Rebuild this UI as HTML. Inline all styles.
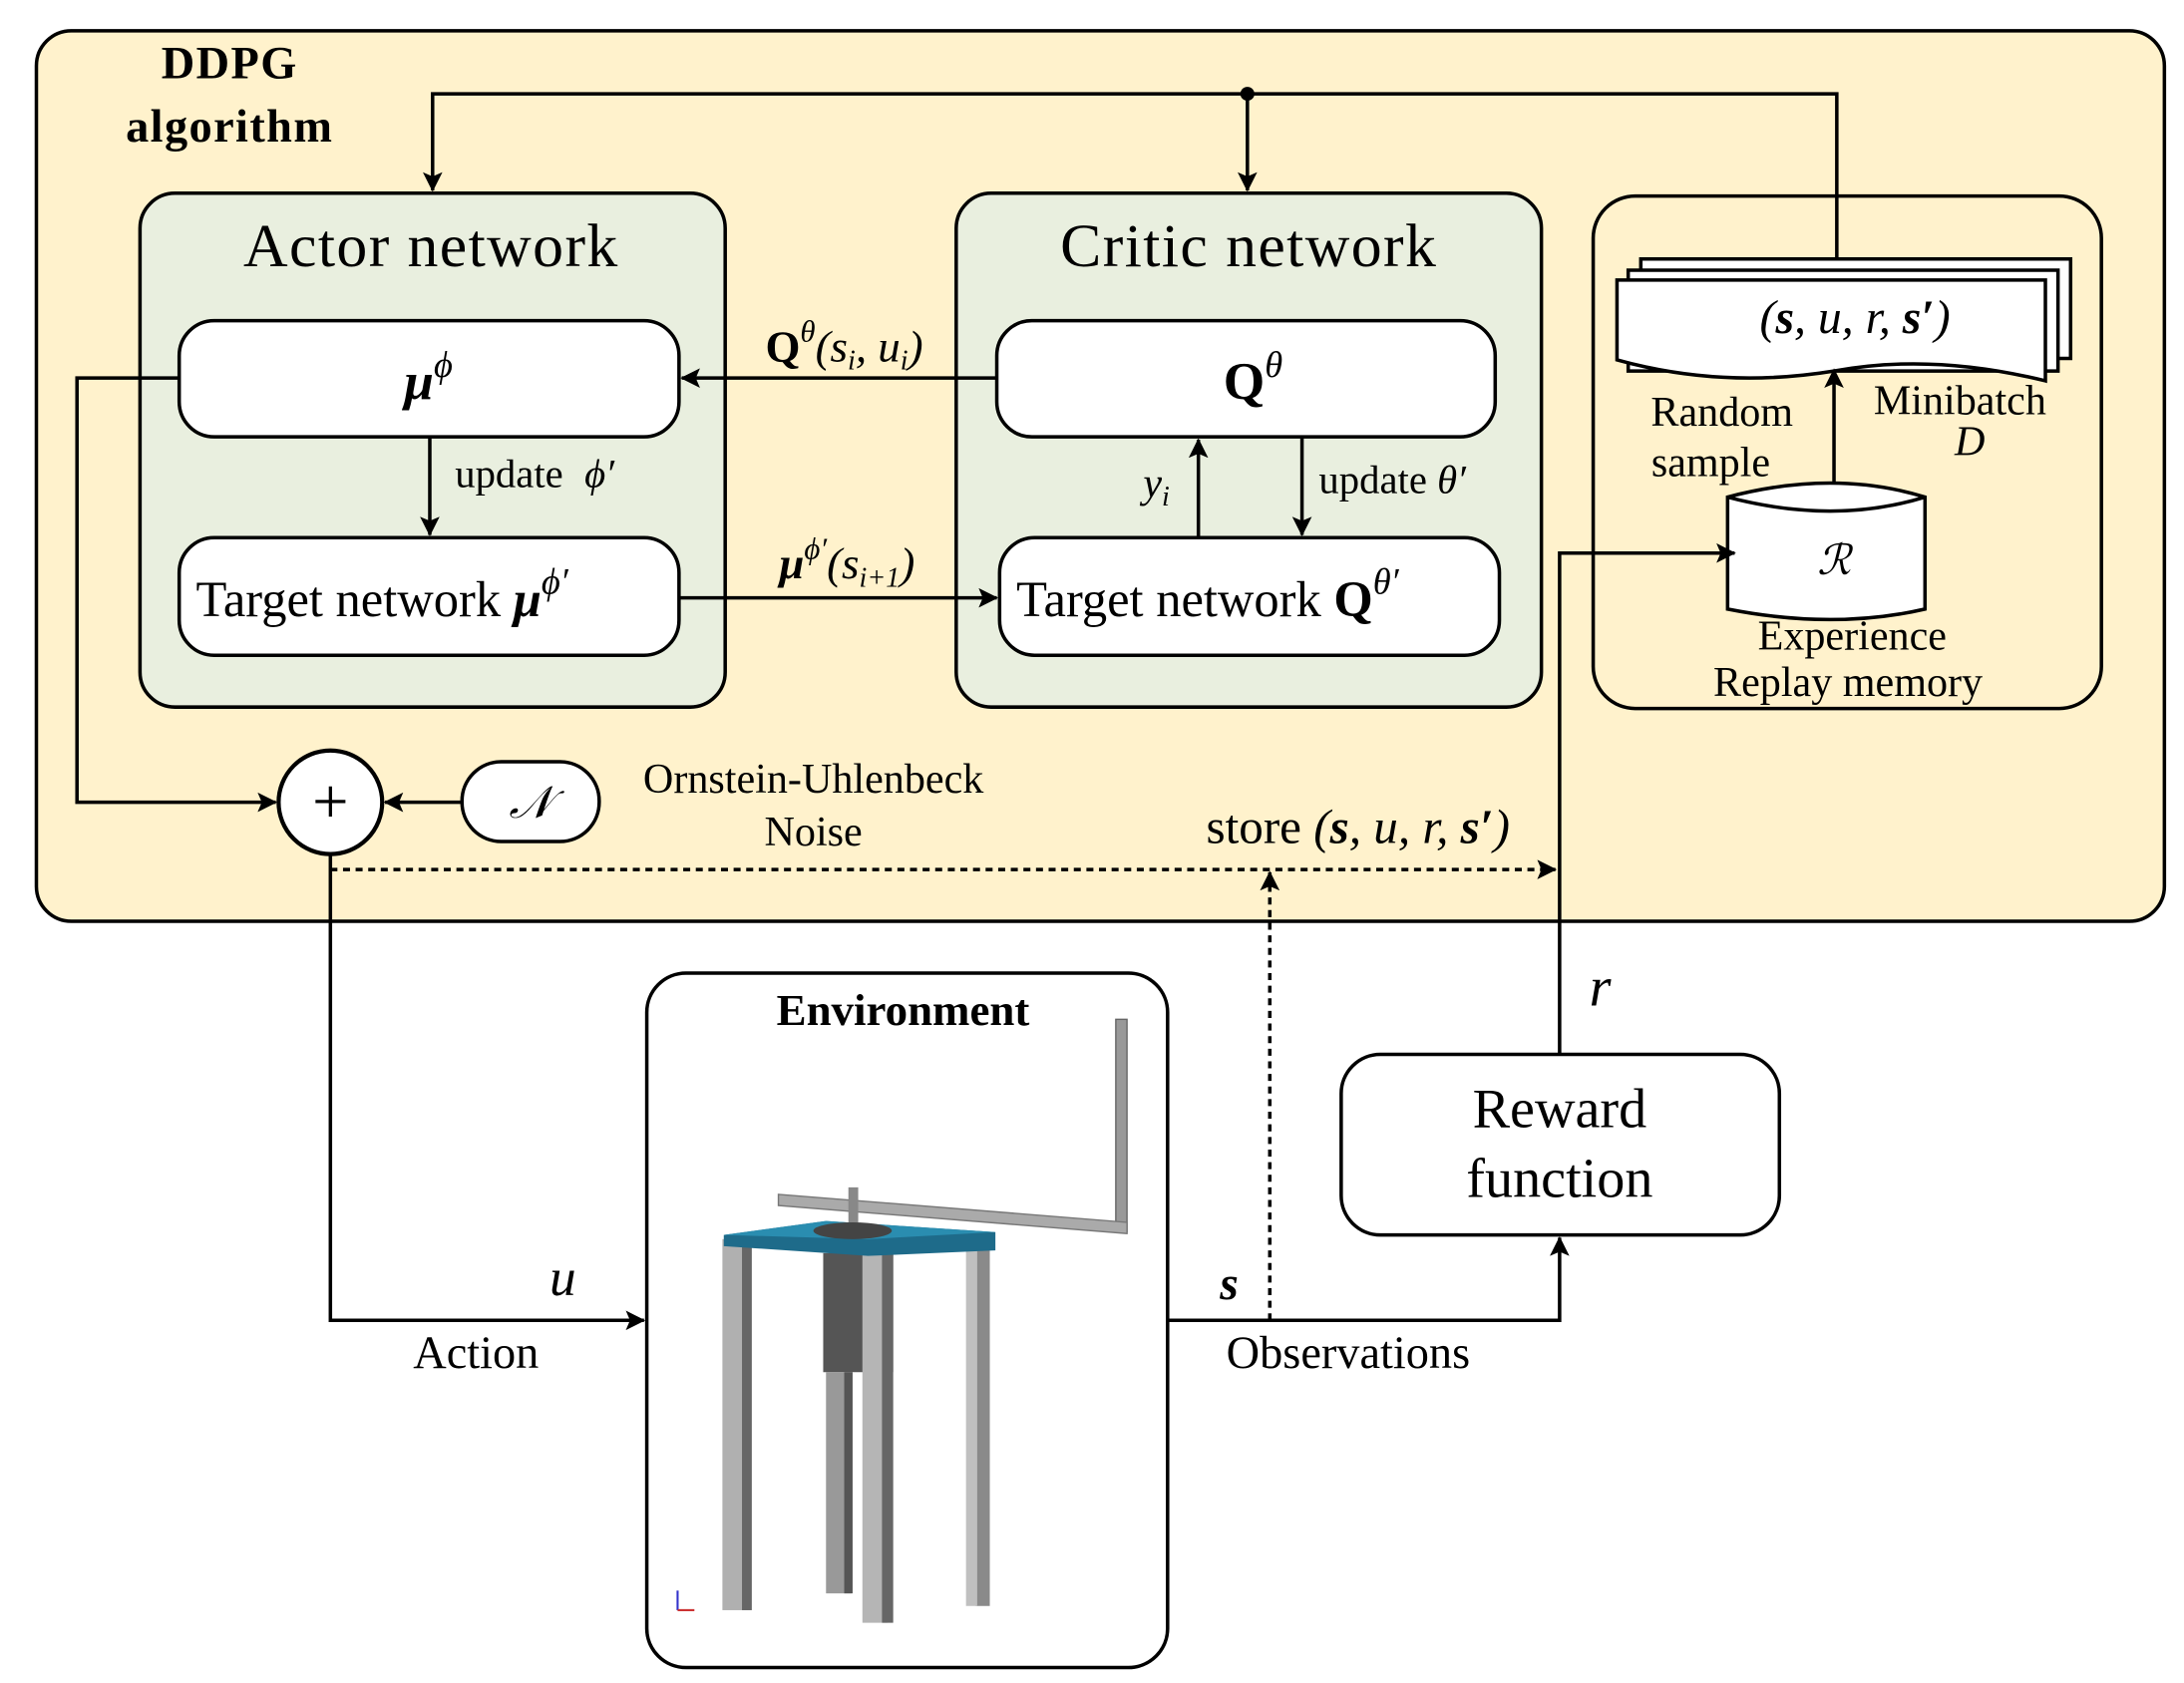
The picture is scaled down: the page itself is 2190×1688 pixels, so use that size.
<!DOCTYPE html>
<html><head><meta charset="utf-8"><style>
html,body{margin:0;padding:0;background:#fff}
svg{display:block}
text{font-family:"Liberation Serif",serif;fill:#000}
</style></head><body>
<svg width="2190" height="1688" viewBox="0 0 1560 1202" preserveAspectRatio="none" xmlns="http://www.w3.org/2000/svg">
<defs>
<marker id="a" markerWidth="14" markerHeight="14" refX="13" refY="7" orient="auto" markerUnits="userSpaceOnUse" viewBox="0 0 14 14"><path d="M0,0 L14,7 L0,14 L3,7 Z" fill="#000"/></marker>
</defs>
<rect x="26" y="22" width="1520" height="636" rx="25" fill="#fff2cc" stroke="#000" stroke-width="2.5"/>
<text x="164" y="56" font-size="33" font-weight="bold" text-anchor="middle" letter-spacing="1">DDPG</text>
<text x="164" y="101" font-size="33" font-weight="bold" text-anchor="middle" letter-spacing="1">algorithm</text>

<!-- Actor -->
<rect x="100" y="138" width="418" height="367" rx="25" fill="#e9efdf" stroke="#000" stroke-width="2.5"/>
<text x="308" y="190" font-size="44" text-anchor="middle" letter-spacing="1">Actor network</text>
<rect x="128" y="229" width="357" height="83" rx="25" fill="#fff" stroke="#000" stroke-width="2.5"/>
<text x="306" y="285" font-size="38" text-anchor="middle" font-weight="bold" font-style="italic">μ<tspan font-size="26" dy="-16" font-weight="normal">ϕ</tspan></text>
<rect x="128" y="384" width="357" height="84" rx="25" fill="#fff" stroke="#000" stroke-width="2.5"/>
<text x="140" y="440" font-size="36">Target network <tspan font-weight="bold" font-style="italic">μ</tspan><tspan font-size="26" dy="-16" font-style="italic">ϕ′</tspan></text>

<!-- Critic -->
<rect x="683" y="138" width="418" height="367" rx="25" fill="#e9efdf" stroke="#000" stroke-width="2.5"/>
<text x="892" y="190" font-size="44" text-anchor="middle" letter-spacing="1">Critic network</text>
<rect x="712" y="229" width="356" height="83" rx="25" fill="#fff" stroke="#000" stroke-width="2.5"/>
<text x="895" y="285" font-size="38" text-anchor="middle" font-weight="bold">Q<tspan font-size="26" dy="-16" font-weight="normal" font-style="italic">θ</tspan></text>
<rect x="714" y="384" width="357" height="84" rx="25" fill="#fff" stroke="#000" stroke-width="2.5"/>
<text x="726" y="440" font-size="36">Target network <tspan font-weight="bold">Q</tspan><tspan font-size="26" dy="-16" font-style="italic">θ′</tspan></text>

<!-- Replay -->
<rect x="1138" y="140" width="363" height="366" rx="30" fill="#fff2cc" stroke="#000" stroke-width="2.5"/>
<path d="M1172,185 H1479 V256 H1172 Z" fill="#fff" stroke="#000" stroke-width="2.5"/>
<path d="M1163,193 H1470 V265 H1163 Z" fill="#fff" stroke="#000" stroke-width="2.5"/>
<path d="M1155,200 H1461 V272 Q1380,252 1310,265 Q1230,278 1155,257 Z" fill="#fff" stroke="#000" stroke-width="2.5"/>
<text x="1325" y="238" font-size="34" text-anchor="middle" font-style="italic">(<tspan font-weight="bold">s</tspan>, u, r, <tspan font-weight="bold">s′</tspan>)</text>
<text x="1230" y="304" font-size="30" text-anchor="middle">Random</text>
<text x="1222" y="340" font-size="30" text-anchor="middle">sample</text>
<text x="1400" y="296" font-size="30" text-anchor="middle">Minibatch</text>
<text x="1407" y="325" font-size="30" text-anchor="middle" font-style="italic">D</text>
<line x1="1310" y1="345" x2="1310" y2="264" stroke="#000" stroke-width="2.5" marker-end="url(#a)"/>
<path d="M1234,355 Q1310,335 1375,355 V435 Q1310,450 1234,435 Z" fill="#fff" stroke="#000" stroke-width="2.5"/>
<path d="M1234,355 Q1310,375 1375,355" fill="none" stroke="#000" stroke-width="2.5"/>
<text x="1310" y="410" font-size="30" text-anchor="middle" font-style="italic">ℛ</text>
<text x="1323" y="464" font-size="30" text-anchor="middle">Experience</text>
<text x="1320" y="497" font-size="30" text-anchor="middle">Replay memory</text>

<!-- feedback top -->
<polyline points="1312,185 1312,67 309,67 309,136" fill="none" stroke="#000" stroke-width="2.5" marker-end="url(#a)"/>
<line x1="891" y1="67" x2="891" y2="136" stroke="#000" stroke-width="2.5" marker-end="url(#a)"/>
<circle cx="891" cy="67" r="5" fill="#000"/>

<!-- internal arrows -->
<line x1="712" y1="270" x2="487" y2="270" stroke="#000" stroke-width="2.5" marker-end="url(#a)"/>
<text x="603" y="258" font-size="32" text-anchor="middle" font-style="italic"><tspan font-weight="bold" font-style="normal">Q</tspan><tspan font-size="22" dy="-14">θ</tspan><tspan dy="14">(s</tspan><tspan font-size="20" dy="6">i</tspan><tspan dy="-6">, u</tspan><tspan font-size="20" dy="6">i</tspan><tspan dy="-6">)</tspan></text>
<line x1="485" y1="427" x2="712" y2="427" stroke="#000" stroke-width="2.5" marker-end="url(#a)"/>
<text x="605" y="413" font-size="32" text-anchor="middle" font-style="italic"><tspan font-weight="bold">μ</tspan><tspan font-size="22" dy="-14">ϕ′</tspan><tspan dy="14">(s</tspan><tspan font-size="20" dy="6">i+1</tspan><tspan dy="-6">)</tspan></text>
<line x1="307" y1="312" x2="307" y2="382" stroke="#000" stroke-width="2.5" marker-end="url(#a)"/>
<text x="325" y="348" font-size="29">update <tspan font-style="italic" dx="8">ϕ′</tspan></text>
<line x1="856" y1="384" x2="856" y2="314" stroke="#000" stroke-width="2.5" marker-end="url(#a)"/>
<text x="826" y="355" font-size="30" text-anchor="middle" font-style="italic">y<tspan font-size="20" dy="6">i</tspan></text>
<line x1="930" y1="312" x2="930" y2="382" stroke="#000" stroke-width="2.5" marker-end="url(#a)"/>
<text x="942" y="352" font-size="29">update <tspan font-style="italic">θ′</tspan></text>

<!-- actor output -> plus -->
<polyline points="128,270 55,270 55,573 197,573" fill="none" stroke="#000" stroke-width="2.5" marker-end="url(#a)"/>
<circle cx="236" cy="573" r="37" fill="#fff" stroke="#000" stroke-width="3"/>
<text x="236" y="588" font-size="46" text-anchor="middle">+</text>
<rect x="330" y="544" width="98" height="57" rx="28" fill="#fff" stroke="#000" stroke-width="2.5"/>
<text x="379" y="584" font-size="32" text-anchor="middle" font-style="italic">𝒩</text>
<line x1="330" y1="573" x2="275" y2="573" stroke="#000" stroke-width="2.5" marker-end="url(#a)"/>
<text x="581" y="566" font-size="30" text-anchor="middle">Ornstein-Uhlenbeck</text>
<text x="581" y="604" font-size="30" text-anchor="middle">Noise</text>

<!-- store dashed -->
<line x1="236" y1="621" x2="1111" y2="621" stroke="#000" stroke-width="2.5" stroke-dasharray="5,4" marker-end="url(#a)"/>
<text x="970" y="602" font-size="35" text-anchor="middle">store <tspan font-style="italic">(<tspan font-weight="bold">s</tspan>, u, r, <tspan font-weight="bold">s′</tspan>)</tspan></text>
<line x1="907" y1="943" x2="907" y2="623" stroke="#000" stroke-width="2.5" stroke-dasharray="5,4" marker-end="url(#a)"/>

<!-- action -->
<polyline points="236,610 236,943 460,943" fill="none" stroke="#000" stroke-width="2.5" marker-end="url(#a)"/>
<text x="402" y="925" font-size="38" text-anchor="middle" font-style="italic">u</text>
<text x="340" y="977" font-size="33" text-anchor="middle">Action</text>

<!-- observations -->
<polyline points="834,943 1114,943 1114,884" fill="none" stroke="#000" stroke-width="2.5" marker-end="url(#a)"/>
<text x="878" y="928" font-size="34" text-anchor="middle" font-style="italic" font-weight="bold">s</text>
<text x="963" y="977" font-size="33" text-anchor="middle">Observations</text>

<!-- reward -->
<polyline points="1114,753 1114,395 1239,395" fill="none" stroke="#000" stroke-width="2.5" marker-end="url(#a)"/>
<text x="1143" y="718" font-size="40" text-anchor="middle" font-style="italic">r</text>
<rect x="958" y="753" width="313" height="129" rx="28" fill="#fff" stroke="#000" stroke-width="2.5"/>
<text x="1114" y="805" font-size="40" text-anchor="middle">Reward</text>
<text x="1114" y="855" font-size="40" text-anchor="middle">function</text>

<!-- environment -->
<rect x="462" y="695" width="372" height="496" rx="28" fill="#fff" stroke="#000" stroke-width="2.5"/>
<text x="645" y="732" font-size="32" text-anchor="middle" font-weight="bold">Environment</text>
<rect x="797" y="728" width="8" height="152" fill="#999" stroke="#666"/>
<polygon points="556,853 805,873 805,881 556,861" fill="#aaa" stroke="#777"/>
<rect x="606" y="848" width="7" height="28" fill="#888"/>
<rect x="516" y="885" width="18" height="265" fill="#b0b0b0"/><rect x="530" y="885" width="7" height="265" fill="#666"/>
<rect x="697" y="885" width="10" height="262" fill="#8a8a8a"/><rect x="690" y="885" width="8" height="262" fill="#c0c0c0"/>
<rect x="588" y="895" width="50" height="85" fill="#555"/>
<rect x="590" y="980" width="18" height="158" fill="#999"/><rect x="603" y="980" width="6" height="158" fill="#555"/>
<rect x="616" y="895" width="18" height="264" fill="#b5b5b5"/><rect x="630" y="895" width="8" height="264" fill="#666"/>
<polygon points="517,882 590,872 711,880 711,893 620,897 517,890" fill="#1e6b8a"/>
<polygon points="517,882 590,872 711,880 620,885" fill="#2a8db0"/>
<ellipse cx="609" cy="879" rx="28" ry="6" fill="#444"/>
<line x1="484" y1="1150" x2="484" y2="1136" stroke="#33c" stroke-width="1.5"/><line x1="484" y1="1150" x2="496" y2="1150" stroke="#c33" stroke-width="1.5"/>
</svg>
</body></html>
